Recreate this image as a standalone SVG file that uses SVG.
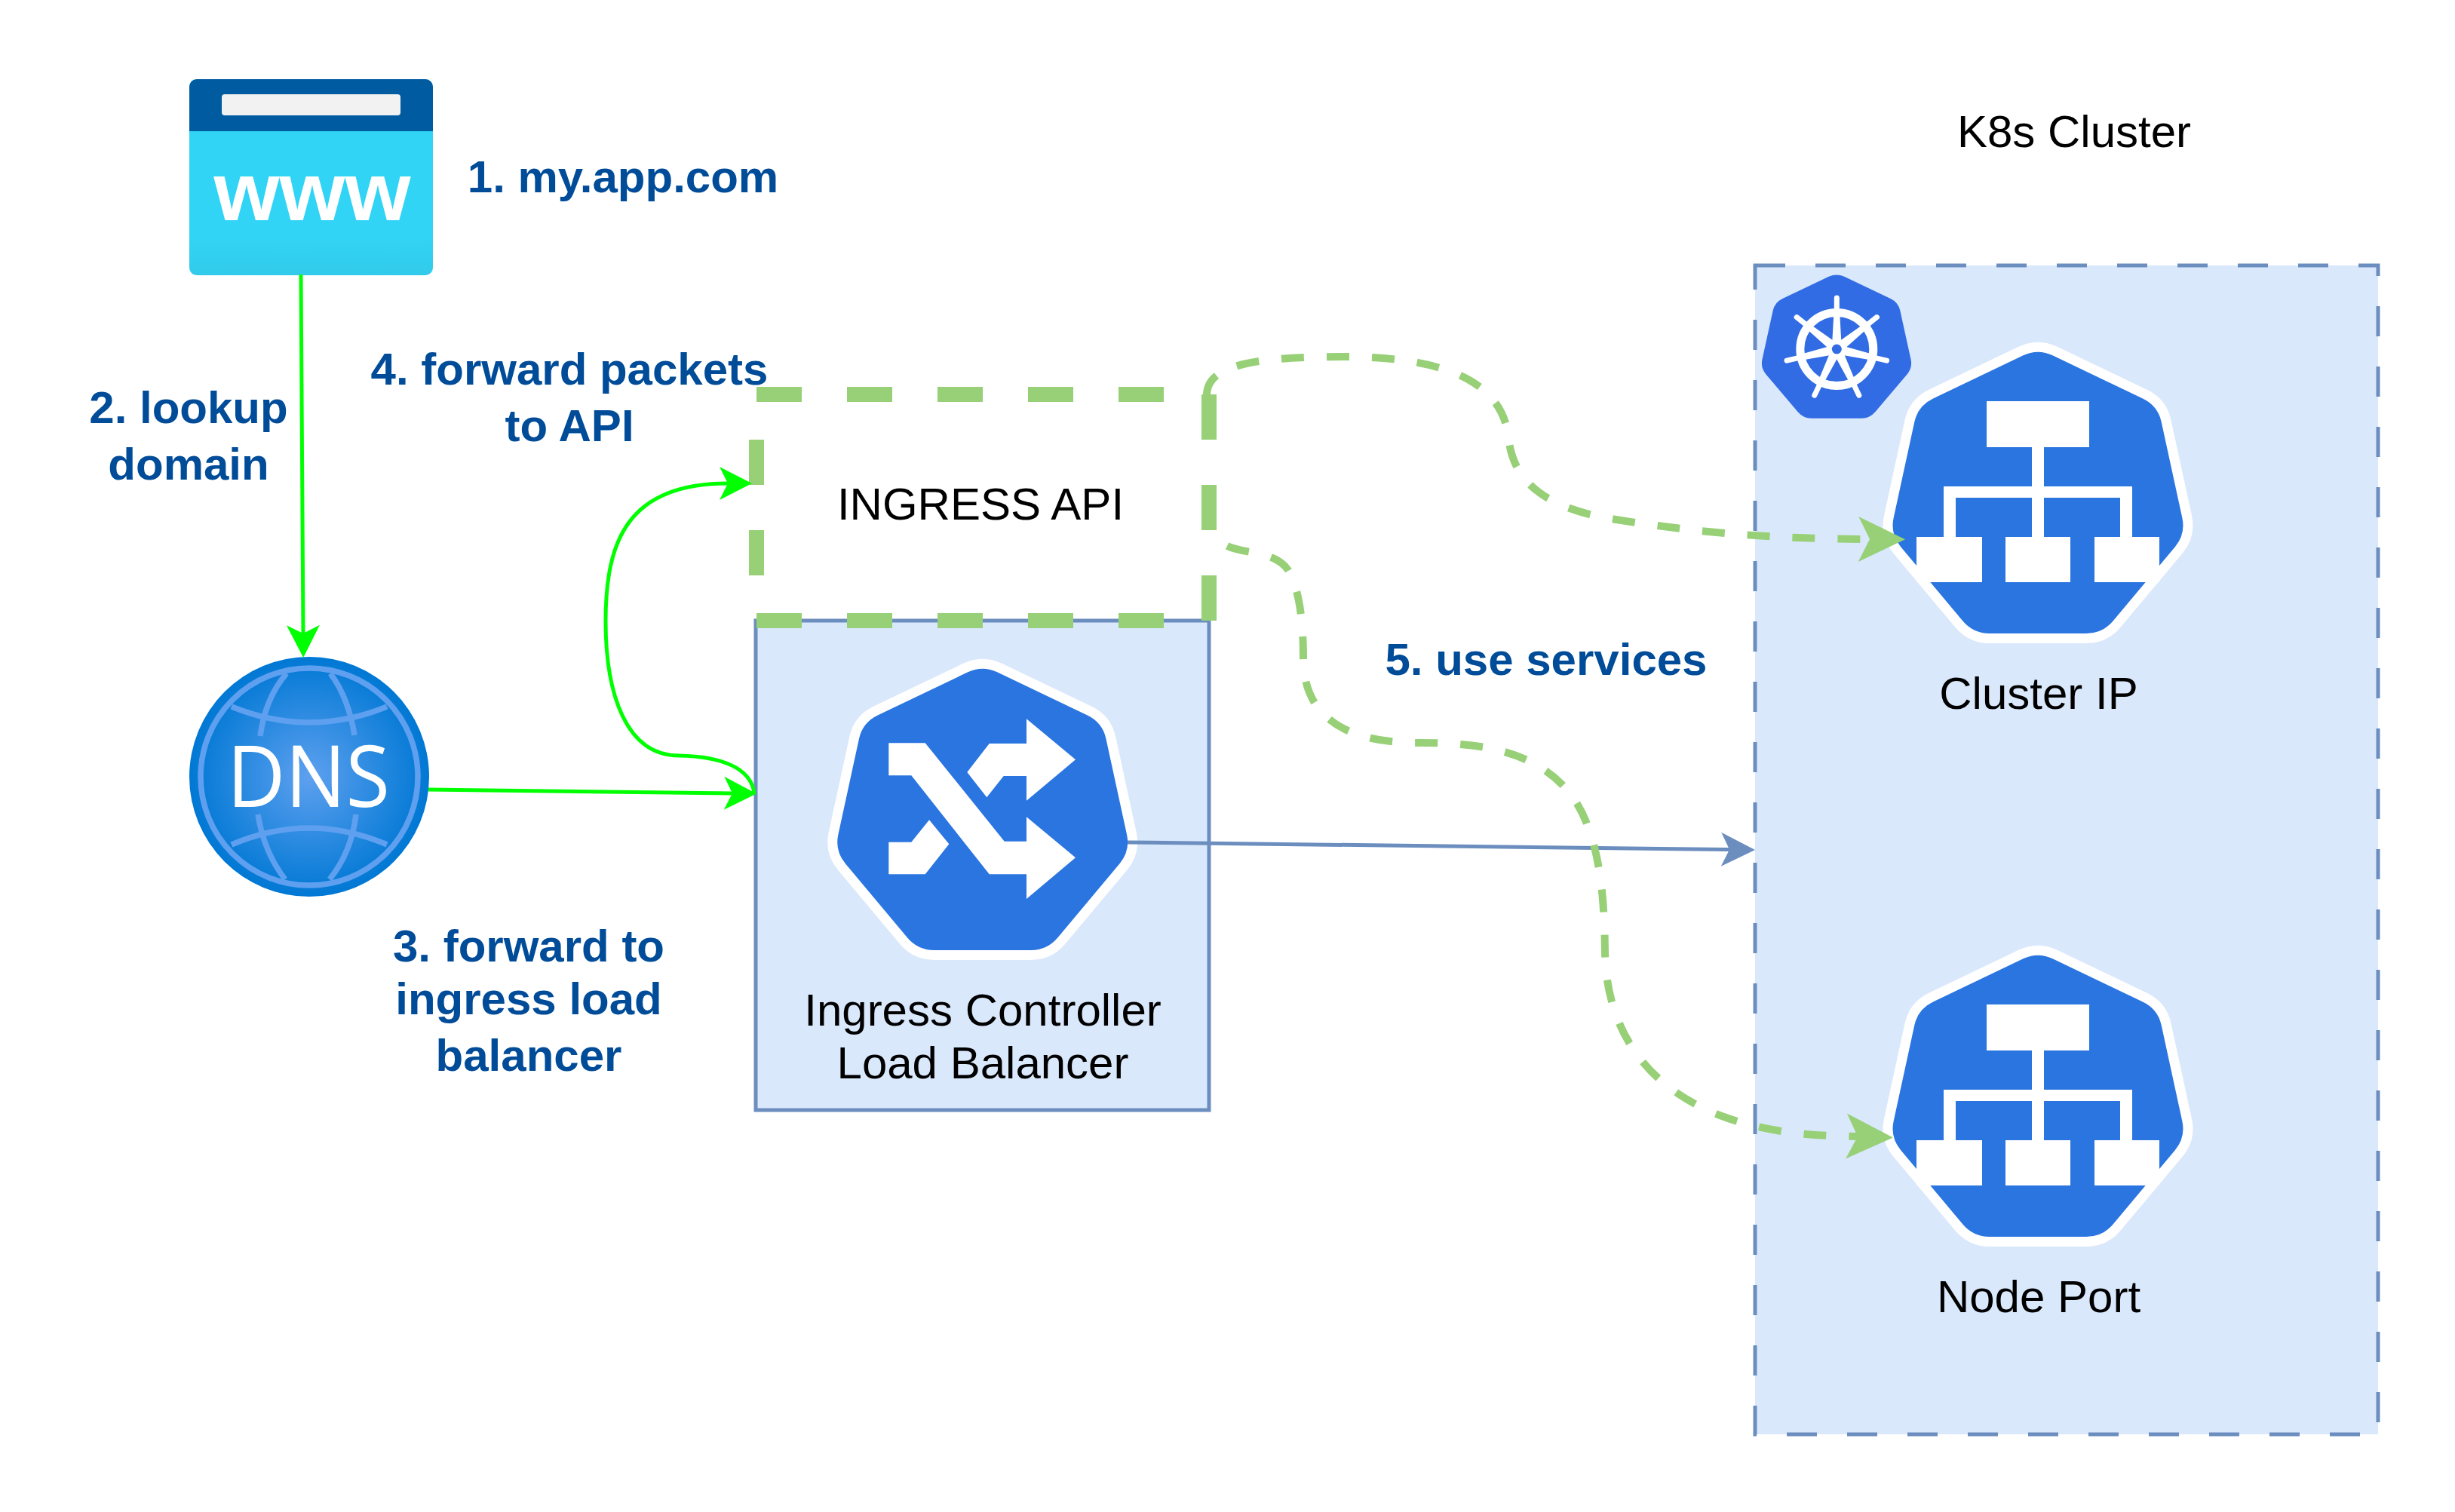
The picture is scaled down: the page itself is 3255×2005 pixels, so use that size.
<svg xmlns="http://www.w3.org/2000/svg" xmlns:xlink="http://www.w3.org/1999/xlink" width="3255" height="2005" viewBox="0 0 3255 2005">
<style>
text{font-family:"Liberation Sans",Arial,sans-serif}
.step{font-size:60px;font-weight:700;fill:#004c99;text-anchor:middle}
.lbl{font-size:60px;fill:#000;text-anchor:middle}
.g{fill:none;stroke:#00ff00;stroke-width:5}
.d{fill:none;stroke:#97d077;stroke-width:10;stroke-dasharray:30 30}
.hept{fill:#2b75e1;stroke:#fff;stroke-width:26;paint-order:stroke}
.w{fill:#fff}
.dl{fill:none;stroke:#5ea0ef;stroke-width:7.5}
</style>
<defs>
<path id="hep" d="M-20 9.5Q0 0 20 9.5L139 66.5Q159 76 163.7 97.5L191.3 224.5Q196 246 182 263L100 361Q86 378 64 378L-64 378Q-86 378 -100 361L-182 263Q-196 246 -191.3 224.5L-163.7 97.5Q-159 76 -139 66.5Z"/>
<g id="svc">
<use href="#hep" class="hept"/>
<path class="w" d="M-68 70H68V131H8V183H125V250H161V310H75V250H109V198H8V250H43V310H-43V250H-8V198H-109V250H-74V310H-161V250H-125V183H-8V131H-68Z"/>
</g>
<path id="spoke" class="w" d="M-3.5 -50L-3.500 -68A3.500 3.500 0 0 1 3.500 -68L3.500 -50L4 -46L6 -10L-6 -10L-4 -46Z"/>
<linearGradient id="wb" x1="0" y1="0" x2="0" y2="1"><stop offset="0" stop-color="#32d4f5"/><stop offset="0.8" stop-color="#32d4f5"/><stop offset="1" stop-color="#32caea"/></linearGradient>
<radialGradient id="dg" cx="0.5" cy="0.5" r="0.5"><stop offset="0" stop-color="#5ea0ef"/><stop offset="1" stop-color="#0078d4"/></radialGradient>
<marker id="mg" markerUnits="userSpaceOnUse" markerWidth="1" markerHeight="1" overflow="visible" orient="auto"><path fill="#00ff00" d="M-11 -22L32 0L-11 22L0 0Z"/></marker>
<marker id="mb" markerUnits="userSpaceOnUse" markerWidth="1" markerHeight="1" overflow="visible" orient="auto"><path fill="#6c8ebf" d="M-11 -22.500L34 0L-11 22.500L0 0Z"/></marker>
<marker id="md" markerUnits="userSpaceOnUse" markerWidth="1" markerHeight="1" overflow="visible" orient="auto"><path fill="#97d077" d="M-15 -30L47 0L-15 30L0 0Z"/></marker>
</defs>
<rect width="3255" height="2005" fill="#fff"/>

<g id="www">
<rect x="251" y="105" width="323" height="260" rx="10" fill="url(#wb)"/>
<path d="M251 174V115A10 10 0 0 1 261 105H564A10 10 0 0 1 574 115V174Z" fill="#005ba1"/>
<rect x="294" y="125" width="237" height="28" rx="4" fill="#f2f2f2"/>
<text x="414" y="292" font-size="110" font-weight="700" fill="#fff" text-anchor="middle" textLength="261" lengthAdjust="spacingAndGlyphs">www</text>
</g>

<g id="dns">
<circle cx="410" cy="1030" r="159" fill="url(#dg)"/>
<circle cx="410" cy="1030" r="144" class="dl"/>
<path class="dl" d="M307 937Q410 979 513 937M307 1120Q410 1076 513 1120M345 976Q352 925 380 893M470 975Q462 925 438 893M342 1080Q350 1130 378 1166M472 1080Q466 1130 437 1166"/>
<text x="409" y="1070" font-size="114" fill="#fff" text-anchor="middle" style="font-family:'Open Sans','Liberation Sans',sans-serif" textLength="216" lengthAdjust="spacingAndGlyphs">DNS</text>
</g>

<g id="ingress-lb">
<rect x="1002" y="823" width="601" height="649" fill="#dae8fc" stroke="#6c8ebf" stroke-width="5"/>
<use href="#hep" class="hept" x="1302.700" y="882"/>
<path class="w" d="M1178.300 985.300H1226.700L1331.700 1115.700H1361V1083.300L1426 1137.300L1361 1192V1159.300H1311.700L1208.300 1028.300H1178.300Z"/>
<path class="w" d="M1282.300 1024L1311.700 986H1361V953.300L1426 1007.300L1361 1061.700V1029H1330.700L1308.300 1057.300Z"/>
<path class="w" d="M1178.300 1116.700H1208.300L1232 1087.300L1258.300 1119.300L1226.700 1159.300H1178.300Z"/>
<text class="lbl" x="1303" y="1360">Ingress Controller</text>
<text class="lbl" x="1303" y="1430">Load Balancer</text>
</g>

<g id="ingress-api">
<rect x="1003" y="523" width="600" height="300" fill="none" stroke="#97d077" stroke-width="20" stroke-dasharray="60 60"/>
<text class="lbl" x="1300" y="689">INGRESS API</text>
</g>

<g id="k8s-cluster">
<rect x="2327" y="352" width="826" height="1550" fill="#dae8fc" stroke="#6c8ebf" stroke-width="5" stroke-dasharray="40 40"/>
<text class="lbl" x="2750" y="195">K8s Cluster</text>
</g>

<g id="k8s-logo">
<use href="#hep" fill="#326ce5" transform="translate(2435 362) scale(.515 .51)"/>
<g transform="translate(2435.300 463)">
<circle r="48.500" fill="none" stroke="#fff" stroke-width="11"/>
<use href="#spoke"/>
<use href="#spoke" transform="rotate(51.430)"/>
<use href="#spoke" transform="rotate(102.860)"/>
<use href="#spoke" transform="rotate(154.290)"/>
<use href="#spoke" transform="rotate(205.710)"/>
<use href="#spoke" transform="rotate(257.140)"/>
<use href="#spoke" transform="rotate(308.570)"/>
<circle r="12" fill="#fff"/>
<circle r="6.500" fill="#326ce5"/>
</g>
</g>

<g id="cluster-ip">
<use href="#svc" x="2702" y="462"/>
<text class="lbl" x="2703" y="940">Cluster IP</text>
</g>

<g id="node-port">
<use href="#svc" x="2702" y="1262"/>
<text class="lbl" x="2703" y="1740">Node Port</text>
</g>

<g id="labels">
<text class="step" x="826" y="255">1. my.app.com</text>
<text class="step" x="250" y="561">2. lookup</text>
<text class="step" x="250" y="636">domain</text>
<text class="step" x="755" y="510">4. forward packets</text>
<text class="step" x="755" y="585">to API</text>
<text class="step" x="701" y="1275">3. forward to</text>
<text class="step" x="701" y="1345">ingress load</text>
<text class="step" x="701" y="1420">balancer</text>
<text class="step" x="2050" y="895">5. use services</text>
</g>

<g id="connectors">
<path class="g" marker-end="url(#mg)" d="M399 364L402 840"/>
<path class="g" marker-end="url(#mg)" d="M568 1047L971 1052"/>
<path class="g" marker-end="url(#mg)" d="M1000 1052C996 1020 960 1003 900 1002C830 1002 803 920 803 824C803 720 830 641 965 641"/>
<path fill="none" stroke="#6c8ebf" stroke-width="5" marker-end="url(#mb)" d="M1495 1117L2293 1126.500"/>
<path class="d" marker-end="url(#md)" d="M1600 524C1600 485 1660 473 1780 473C1880 473 1990 490 2000 580C2006 640 2050 672 2130 687C2260 708 2350 714 2479 715"/>
<path class="d" marker-end="url(#md)" d="M1627 724C1650 735 1690 730 1708 756C1722 780 1728 820 1728 873C1728 940 1770 985 1880 985C1950 985 2030 990 2080 1050C2122 1102 2127 1190 2128 1262C2130 1400 2225 1500 2430 1506L2463 1507"/>
</g>
</svg>
